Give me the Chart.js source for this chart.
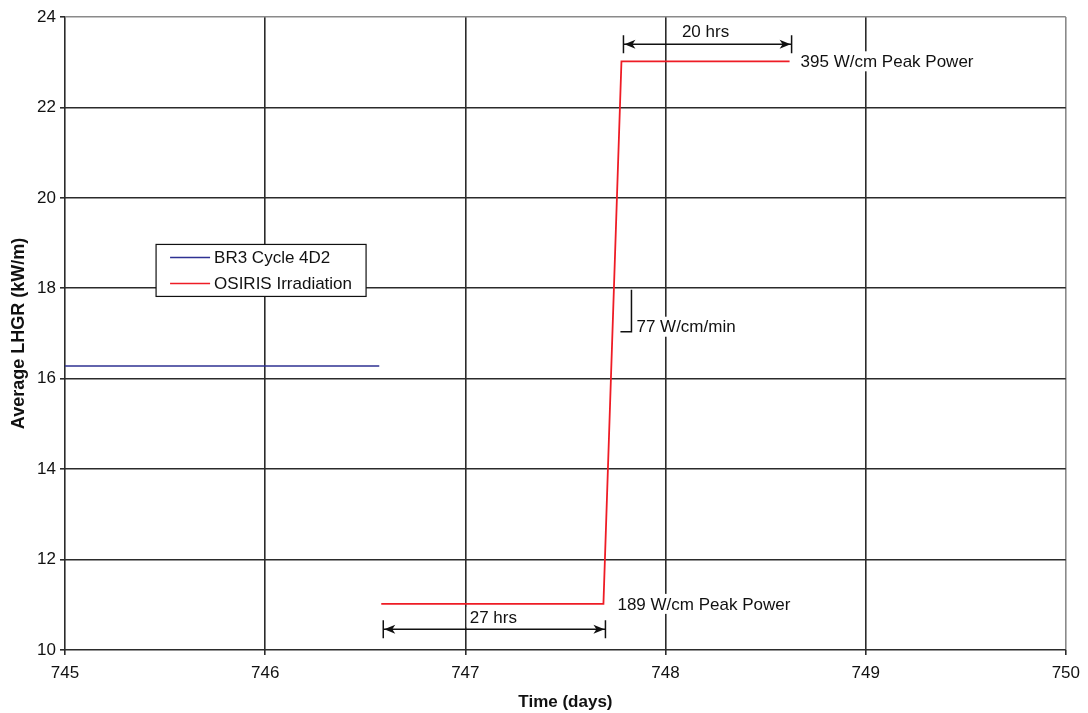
<!DOCTYPE html>
<html>
<head>
<meta charset="utf-8">
<script src="https://cdn.jsdelivr.net/npm/chart.js@4/dist/chart.umd.min.js"></script>
<style>
  html, body { margin: 0; padding: 0; background: #fff; }
  #wrap { width: 1088px; height: 713px; }
</style>
</head>
<body>
<div id="wrap"><canvas id="lhgrChart"></canvas></div>
<script>
// data
const xTicks = [745, 746, 747, 748, 749, 750];
const yTicks = [10, 12, 14, 16, 18, 20, 22, 24];

const br3Time = [745, 746.57];
const br3Lhgr = [16.28, 16.28];

const osirisTime = [746.58, 747.69, 747.78, 748.62];
const osirisLhgr = [11.02, 11.02, 23.02, 23.02];

const FONT = "'Liberation Sans', Arial, sans-serif";
const DARK = "#2b2b2b";

const toPoints = (xs, ys) => xs.map((x, i) => ({ x: x, y: ys[i] }));

// annotations drawn on top, positioned in data units
const annotations = {
  plugin: {
    id: "annotations",
    afterDatasetsDraw(chart) {
      const ctx = chart.ctx;
      const xs = chart.scales.x;
      const ys = chart.scales.y;
      const px = (v) => xs.getPixelForValue(v);
      const py = (v) => ys.getPixelForValue(v);

      ctx.save();
      ctx.font = "17px " + FONT;
      ctx.textBaseline = "middle";

      const label = (text, x, y, align) => {
        const w = ctx.measureText(text).width;
        const left = align === "center" ? x - w / 2 : x;
        ctx.fillStyle = "#fff";
        ctx.fillRect(left - 3, y - 10, w + 6, 20);
        ctx.fillStyle = "#111";
        ctx.textAlign = "left";
        ctx.fillText(text, left, y + 1);
      };

      const arrow = (x1, x2, y) => {
        ctx.strokeStyle = "#111";
        ctx.fillStyle = "#111";
        ctx.lineWidth = 1.5;
        ctx.beginPath();
        ctx.moveTo(x1, y);
        ctx.lineTo(x2, y);
        ctx.moveTo(x1, y - 9);
        ctx.lineTo(x1, y + 9);
        ctx.moveTo(x2, y - 9);
        ctx.lineTo(x2, y + 9);
        ctx.stroke();
        [[x1, 1], [x2, -1]].forEach(([x, d]) => {
          ctx.beginPath();
          ctx.moveTo(x + d * 1, y);
          ctx.lineTo(x + d * 12, y - 4.5);
          ctx.lineTo(x + d * 9, y);
          ctx.lineTo(x + d * 12, y + 4.5);
          ctx.closePath();
          ctx.fill();
        });
      };

      // text labels
      label("395 W/cm Peak Power", px(748.675), py(23.02), "left");
      label("189 W/cm Peak Power", px(747.76), py(11.02), "left");
      label("20 hrs", px(748.2), py(23.68), "center");
      label("27 hrs", px(747.14), py(10.73), "center");
      label("77 W/cm/min", px(747.855), py(17.15), "left");

      // arrows
      arrow(px(746.59), px(747.7), py(10.46));
      arrow(px(747.79), px(748.63), py(23.4));

      // ramp rate bracket
      ctx.strokeStyle = "#111";
      ctx.lineWidth = 1.5;
      ctx.beginPath();
      ctx.moveTo(px(747.83), py(17.97));
      ctx.lineTo(px(747.83), py(17.04));
      ctx.lineTo(px(747.775), py(17.04));
      ctx.stroke();

      // legend box
      const lx = px(745.455), ly = py(18.97);
      const lw = 210, lh = 52;
      ctx.fillStyle = "#fff";
      ctx.fillRect(lx, ly, lw, lh);
      ctx.strokeStyle = "#111";
      ctx.lineWidth = 1.2;
      ctx.strokeRect(lx, ly, lw, lh);
      chart.data.datasets.forEach((ds, i) => {
        const yy = ly + 13 + i * 26;
        ctx.strokeStyle = ds.borderColor;
        ctx.lineWidth = 1.5;
        ctx.beginPath();
        ctx.moveTo(lx + 14, yy);
        ctx.lineTo(lx + 54, yy);
        ctx.stroke();
        ctx.fillStyle = "#111";
        ctx.textAlign = "left";
        ctx.fillText(ds.label, lx + 58, yy + 1);
      });

      ctx.restore();
    },
  },
};

const chart = new Chart(document.getElementById("lhgrChart"), {
  type: "scatter",
  data: {
    datasets: [
      {
        label: "BR3 Cycle 4D2",
        data: toPoints(br3Time, br3Lhgr),
        showLine: true,
        borderColor: "#2e3192",
        borderWidth: 1.5,
        pointRadius: 0,
        tension: 0,
      },
      {
        label: "OSIRIS Irradiation",
        data: toPoints(osirisTime, osirisLhgr),
        showLine: true,
        borderColor: "#ee1c25",
        borderWidth: 1.8,
        pointRadius: 0,
        tension: 0,
      },
    ],
  },
  options: {
    responsive: true,
    maintainAspectRatio: false,
    animation: false,
    events: [],
    layout: { padding: { top: 17, right: 21, left: 0, bottom: 0 } },
    scales: {
      x: {
        type: "linear",
        min: 745,
        max: 750,
        afterBuildTicks: (s) => { s.ticks = xTicks.map((v) => ({ value: v })); },
        afterFit: (s) => { s.height = 63; },
        border: { display: false },
        grid: {
          color: (c) => (c.tick && c.tick.value === 750 ? "#8a8a8a" : DARK),
          lineWidth: 1.6,
          tickLength: 5,
          tickColor: DARK,
        },
        ticks: {
          color: "#111",
          padding: 8,
          maxRotation: 0,
          font: { size: 17, family: FONT },
        },
        title: {
          display: true,
          text: "Time (days)",
          color: "#111",
          padding: { top: 2, bottom: 0 },
          font: { size: 17, weight: "bold", family: FONT },
        },
      },
      y: {
        type: "linear",
        min: 10,
        max: 24,
        afterBuildTicks: (s) => { s.ticks = yTicks.map((v) => ({ value: v })); },
        afterFit: (s) => { s.width = 65; },
        border: { display: false },
        grid: {
          color: (c) => (c.tick && c.tick.value === 24 ? "#8a8a8a" : DARK),
          lineWidth: 1.6,
          tickLength: 5,
          tickColor: DARK,
        },
        ticks: {
          color: "#111",
          padding: 4,
          font: { size: 17, family: FONT },
        },
        title: {
          display: true,
          text: "Average LHGR (kW/m)",
          color: "#111",
          padding: { top: 8, bottom: 0 },
          font: { size: 18, weight: "bold", family: FONT },
        },
      },
    },
    plugins: {
      legend: { display: false },
      tooltip: { enabled: false },
    },
  },
  plugins: [annotations.plugin],
});
</script>
</body>
</html>
